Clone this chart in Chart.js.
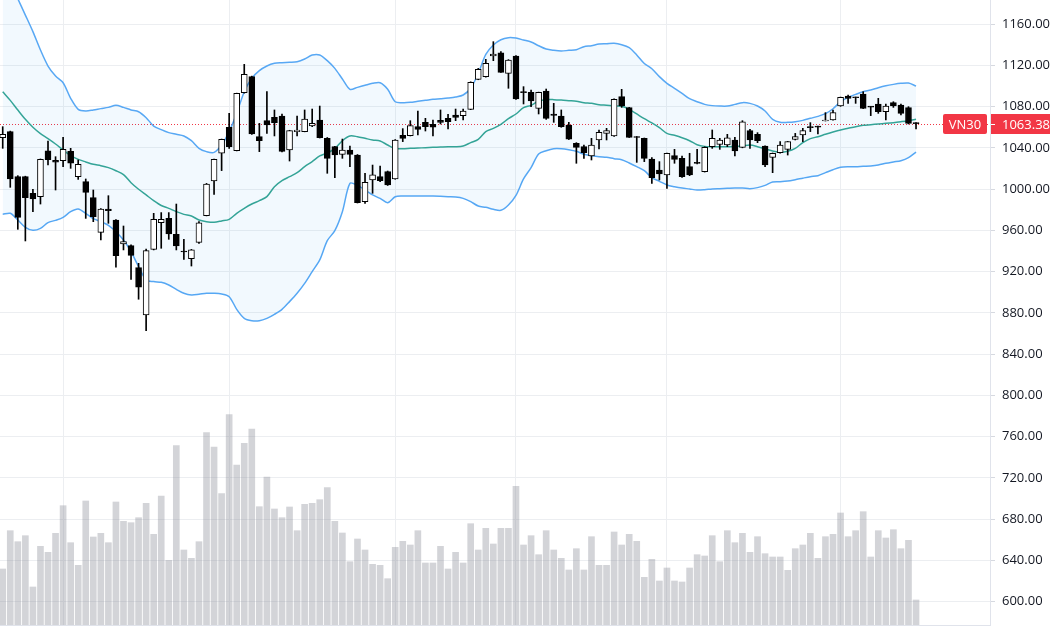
<!DOCTYPE html>
<html>
<head>
<meta charset="utf-8">
<title>VN30</title>
<script src="https://cdn.jsdelivr.net/npm/chart.js@4.4.0/dist/chart.umd.min.js"></script>
<style>
  html, body { margin: 0; padding: 0; background: #fff; overflow: hidden; }
  #chart { display: block; }
</style>
</head>
<body>
<canvas id="chart" width="1050" height="630"></canvas>
<script>
// daily candles, oldest first
const opens = [1049.8, 1055.7, 1012, 1012, 995.9, 992.6, 1037.2, 1027.8, 1027.5, 1036.6,
  1012, 1007.2, 991.7, 958.1, 980.5, 970, 946.8, 945.2, 923.8, 878,
  941.6, 967.4, 971.6, 956.2, 940, 932.6, 948.4, 974.2, 1007.8, 1034.7,
  1059.9, 1037.2, 1093.5, 1109, 1050.8, 1066.3, 1069.5, 1070.8, 1037.9, 1055.7,
  1055.7, 1061.2, 1067, 1049.2, 1041.1, 1033.7, 1037.9, 1033, 987.8, 1008.8,
  1012, 1016.9, 1009.8, 1052.1, 1051.8, 1060.5, 1064.7, 1062.8, 1066.6, 1068.6,
  1071.8, 1071.2, 1077.3, 1106.4, 1109, 1129, 1132.2, 1112.2, 1129, 1094.2,
  1093.8, 1078.3, 1095.1, 1072.8, 1070.8, 1062.1, 1044.3, 1041.1, 1032.1, 1047.6,
  1054, 1051.5, 1089.6, 1078.9, 1050.8, 1049.2, 1029.2, 1018.5, 1013.7, 1032.4,
  1029.8, 1021.7, 1025.9, 1016.9, 1041.1, 1043.4, 1042.7, 1047.6, 1040.5, 1056.6,
  1053.1, 1041.8, 1030.8, 1035.3, 1038.5, 1048.2, 1052.4, 1059.9, 1060.5, 1066,
  1067, 1080.5, 1090.2, 1089, 1092.2, 1079.9, 1082.5, 1075, 1083.8, 1081.5,
  1078.9, 1063.6];
const highs = [1060.5, 1056.2, 1013, 1012.5, 999.8, 1029.2, 1046.6, 1031.4, 1050.2, 1039.5,
  1028.2, 1009.8, 999.1, 981, 993.6, 970.5, 964.2, 946, 928, 941.9,
  976.5, 977.2, 977.2, 985.5, 951.3, 941.5, 968.4, 1005.5, 1029, 1048.5,
  1073.4, 1093, 1120.9, 1109.5, 1063.7, 1094.4, 1076.7, 1072.8, 1057, 1070.8,
  1076.7, 1077.6, 1080.5, 1050, 1041.5, 1048.5, 1041.8, 1033.5, 1015.3, 1023.3,
  1022.4, 1017.5, 1048, 1058.6, 1066.3, 1075.7, 1068.6, 1067, 1076.7, 1072.5,
  1077.6, 1077.6, 1104, 1117, 1125.8, 1142.9, 1133.2, 1125.5, 1129.5, 1099.3,
  1096, 1094, 1097, 1083.1, 1076.7, 1064.7, 1045, 1042.7, 1049.2, 1057.3,
  1058.9, 1087.5, 1096.7, 1079.2, 1051, 1049.5, 1030.5, 1026.6, 1035, 1038.5,
  1032.1, 1034.7, 1038.5, 1041, 1057.3, 1049.2, 1053.1, 1050.2, 1066.3, 1057.9,
  1054.7, 1042, 1035, 1046, 1046.2, 1054, 1058.9, 1064.4, 1061, 1074.1,
  1076.7, 1089.2, 1091.2, 1089.2, 1094.4, 1080, 1088, 1082.5, 1084.7, 1082.5,
  1079.9, 1064.4];
const lows = [1039.5, 1001.7, 961, 949.7, 978.1, 985.5, 1023.3, 999.1, 1021.7, 1020.1,
  1009.4, 971.6, 968.4, 950.6, 966.8, 924.2, 941, 912.5, 893.2, 862.8,
  941, 942.6, 951.3, 941, 931.9, 925.4, 947.4, 974, 994.9, 1017.9,
  1039.5, 1037, 1093, 1053, 1036.3, 1054, 1051.5, 1036, 1027.2, 1051.5,
  1055.5, 1060.5, 1049.5, 1015.3, 1011.1, 1029.8, 1021.7, 986.5, 986.2, 995.9,
  1007.2, 1003.5, 1009.5, 1046, 1051.5, 1052.4, 1056.3, 1051.5, 1063.1, 1058.2,
  1066.3, 1067, 1077, 1106, 1108.5, 1124.5, 1113, 1097.7, 1087, 1082.5,
  1079.9, 1072.8, 1067.6, 1064.7, 1059.9, 1048, 1025, 1029.8, 1028.2, 1038.9,
  1047.6, 1051, 1079.2, 1050, 1025.9, 1026.6, 1005.6, 1008.8, 1000.7, 1025,
  1011.4, 1013, 1024.5, 1016.5, 1039.5, 1038.5, 1041.1, 1032.1, 1040, 1039.5,
  1045, 1021.7, 1015.9, 1034.7, 1033, 1047.6, 1046, 1055.7, 1053.4, 1066,
  1066.8, 1080.2, 1083.1, 1083.1, 1078, 1071.2, 1073.4, 1067, 1079.2, 1071.8,
  1063.1, 1058.2];
const closes = [1053.1, 1009.8, 972.6, 991.7, 990.4, 1028.8, 1028.5, 1026.2, 1038.5, 1025,
  1024, 996.8, 973.3, 980.7, 979, 935.5, 949, 935.8, 904.8, 940.3,
  970.7, 970.7, 956.5, 944.8, 939, 941, 967.4, 1004.9, 1028.8, 1048.2,
  1041.1, 1092.8, 1111.2, 1053.4, 1046.9, 1062.1, 1064.4, 1036.6, 1056.6, 1057.2,
  1067.9, 1063.7, 1049.8, 1029.8, 1033, 1037.9, 1033.7, 986.8, 1006.5, 1013.7,
  1008.2, 1004, 1047.6, 1049.2, 1061.5, 1057.9, 1060.5, 1059.9, 1064.7, 1065.3,
  1069.5, 1075.7, 1103.5, 1116.1, 1121.9, 1130.9, 1113.2, 1125.1, 1087.3, 1093.5,
  1085.4, 1093.8, 1068.6, 1071.5, 1060.5, 1048.5, 1040.5, 1035.3, 1042.7, 1055,
  1056.6, 1087, 1080.5, 1050.2, 1050, 1029.8, 1011.1, 1014.6, 1034.7, 1028.8,
  1012, 1013.7, 1024.9, 1040.5, 1049.2, 1047.6, 1049.8, 1036.9, 1065.3, 1047.6,
  1046.9, 1023.3, 1034.7, 1042.7, 1046, 1050.8, 1056.6, 1059.5, 1060, 1067,
  1074.1, 1088.9, 1088, 1088.5, 1078.3, 1079.5, 1075, 1080.5, 1080.5, 1073.4,
  1063.7, 1063.38];

// volume, relative units
const volumes = [56, 94.3, 83.3, 89.3, 38, 78.7, 72.7, 91.7, 119.3, 82.3,
  59.7, 124, 88, 91.7, 82.3, 123, 103.7, 102.3, 107.3, 121.7,
  90.7, 129, 64.7, 179.3, 75, 66.7, 83.3, 192.3, 178, 131.3,
  210.3, 160, 181.7, 196, 118.3, 148, 116, 107.3, 118, 94.3,
  120.7, 121.7, 125.3, 137.3, 103.7, 92, 63.3, 86, 75, 60.7,
  59.7, 46.3, 77.7, 83.7, 80, 94.3, 62, 62, 78.7, 56,
  72.7, 62, 101.3, 75, 96.7, 81, 96.7, 96.7, 138.7, 80,
  89.3, 70.3, 94.3, 75, 66.7, 55, 76.3, 55, 88.3, 59.7,
  59.7, 93, 80, 90.7, 83.7, 47.7, 65.7, 44, 57, 44,
  43, 57, 70.3, 69, 89.3, 63.3, 94.3, 82.3, 91.7, 72.7,
  88.3, 71.3, 68, 68, 54.7, 76.3, 80, 91.7, 66.7, 88.3,
  90.7, 112, 88.3, 94.3, 113.3, 68, 94.3, 87, 95.3, 76.3,
  84.7, 25];

// Bollinger bands as shown
const bbUpper = [1217, 1200.8, 1184.5, 1168.7, 1152.6, 1134.8, 1119.3, 1109.6, 1103.1, 1088,
  1077.3, 1075.7, 1076.7, 1078, 1079.2, 1081.2, 1079.2, 1076.7, 1075, 1069.2,
  1061.1, 1057.6, 1054.7, 1053.1, 1051.5, 1046.9, 1039.5, 1036.3, 1035.6, 1042.7,
  1055.7, 1073.4, 1094.4, 1107.4, 1114.8, 1119.3, 1121.9, 1122.5, 1122.9, 1123.5,
  1126.1, 1130, 1130, 1124.5, 1117, 1106.7, 1096.7, 1098.6, 1100.6, 1102.5,
  1103.1, 1096.7, 1084.7, 1083.8, 1084.1, 1085.1, 1086, 1087, 1087.6, 1088.3,
  1089.3, 1091.2, 1097.7, 1112.2, 1130.6, 1139.7, 1144.8, 1146.8, 1146.4, 1144.5,
  1142.6, 1139, 1135.8, 1134.5, 1133.8, 1134.5, 1135.1, 1138, 1139, 1140.6,
  1140.9, 1141.3, 1140, 1137.1, 1130, 1121.7, 1116.7, 1109, 1102.5, 1097.7,
  1092.8, 1087.6, 1084.7, 1082.1, 1080.9, 1080.5, 1080.5, 1082.1, 1083.8, 1083.1,
  1080.5, 1075.7, 1067.6, 1064.7, 1064.7, 1065.3, 1066.6, 1068.6, 1070.5, 1073.1,
  1077.9, 1084.7, 1088.9, 1091.8, 1094.4, 1096, 1098.3, 1100.2, 1101.5, 1102.5,
  1102.8, 1099.9];
const bbBasis = [1094.4, 1086, 1076.6, 1067.6, 1059.9, 1053.7, 1048.9, 1043.7, 1037.9, 1032.4,
  1028.8, 1026.3, 1024, 1022.7, 1020.8, 1017.8, 1014, 1006.2, 999.8, 994.3,
  988.8, 984.1, 981.3, 978.1, 975.5, 973.9, 970, 968.4, 967.8, 969.1,
  970.7, 976.5, 981.3, 985.5, 988.8, 992.7, 1002.3, 1008.2, 1012, 1015.9,
  1021.7, 1026.6, 1032.1, 1035, 1039.2, 1046.9, 1051.5, 1050.8, 1049.2, 1047.6,
  1046.6, 1042.7, 1039.2, 1039.2, 1039.5, 1039.8, 1040.1, 1040.5, 1040.8, 1041.1,
  1041.1, 1041.8, 1045, 1048.2, 1055.7, 1058.9, 1062.8, 1068.3, 1072.8, 1078.9,
  1081.2, 1085.4, 1086.7, 1086.7, 1086.3, 1085.7, 1085.1, 1083.8, 1083.1, 1081.8,
  1081.2, 1080.5, 1080.2, 1077.3, 1072.8, 1068.2, 1064.1, 1059.5, 1054, 1052.1,
  1049.8, 1046.9, 1043, 1041.4, 1041.1, 1041.1, 1041.1, 1041.4, 1041.8, 1042.7,
  1041.1, 1038.9, 1036.9, 1035.6, 1036.6, 1039.5, 1045, 1048.9, 1050.8, 1053.1,
  1055.3, 1057.3, 1058.9, 1060.5, 1061.8, 1062.4, 1063.1, 1063.7, 1064.4, 1065.3,
  1066.3, 1067.6];
const bbLower = [975.5, 976.5, 970, 962.9, 960, 961.9, 967.5, 969.7, 972.6, 978.1,
  980.7, 976.5, 971.3, 968.4, 964.9, 958.7, 950.6, 939.3, 924.8, 911.9,
  910.3, 909.6, 907, 902.8, 899, 897.3, 898, 899, 899, 898.3,
  895.7, 883.4, 874.7, 872.4, 872.4, 874.7, 878.6, 883.4, 890.9, 899,
  908.6, 920, 931.3, 950, 959.7, 978.1, 1005.6, 1003.6, 999.1, 994.3,
  991, 986.8, 992.6, 993.3, 993.3, 993.3, 993.3, 993.3, 993, 992.6,
  992.3, 991, 987.8, 983.6, 982.3, 980.4, 979.4, 984.6, 993.9, 1009.8,
  1020.8, 1034, 1037.2, 1039.2, 1039.2, 1038.2, 1036.6, 1033.7, 1032.4, 1031.4,
  1030.8, 1029.5, 1028.5, 1025.3, 1021.7, 1017.8, 1011.1, 1007.5, 1004, 1002.3,
  1001, 1000.1, 999.1, 999.4, 1000.1, 1000.4, 1000.7, 1001, 1001, 1000.4,
  1001.4, 1003.6, 1006.9, 1007.2, 1007.8, 1009.1, 1010.6, 1012, 1013, 1015.9,
  1018.8, 1021.1, 1021.7, 1021.7, 1022.1, 1022.4, 1023.3, 1025, 1026.3, 1027.5,
  1030.5, 1035.9];

// candle index where each month starts (vertical grid lines)
const monthStarts = [8, 30, 52, 68, 88, 111];
const priceTicks = [600, 640, 680, 720, 760, 800, 840, 880, 920, 960, 1000, 1040, 1080, 1120, 1160];
const symbol = 'VN30';

const lastClose = closes[closes.length - 1];
const tagColor = '#f23645';
const gridColor = '#eceef1';
const axisFont = { family: '"Open Sans", sans-serif', size: 13 };

const xy = arr => arr.map((v, i) => ({ x: i, y: v }));

// no label overflow padding: the plot goes right to the canvas edges
const noPad = scale => {
    scale.paddingTop = 0;
    scale.paddingBottom = 0;
    scale.paddingLeft = 0;
    scale.paddingRight = 0;
};

const lastPriceTag = {
    id: 'lastPriceTag',
    beforeDatasetsDraw(chart) {
        const { ctx, chartArea } = chart;
        const y = Math.round(chart.scales.y.getPixelForValue(lastClose)) + 0.5;
        ctx.save();
        ctx.strokeStyle = tagColor;
        ctx.lineWidth = 1;
        ctx.setLineDash([1, 2]);
        ctx.beginPath();
        ctx.moveTo(chartArea.left, y);
        ctx.lineTo(chartArea.right, y);
        ctx.stroke();
        ctx.restore();
    },
    afterDraw(chart) {
        const { ctx, chartArea } = chart;
        const y = Math.round(chart.scales.y.getPixelForValue(lastClose));
        ctx.save();
        ctx.font = '13px "Open Sans", sans-serif';
        ctx.textBaseline = 'middle';

        // symbol tag, inside the plot
        const w = Math.round(ctx.measureText(symbol).width) + 12;
        const x0 = chartArea.right - 3 - w;
        ctx.fillStyle = tagColor;
        ctx.beginPath();
        ctx.roundRect(x0, y - 10, w, 20, 2);
        ctx.fill();
        ctx.fillStyle = '#fff';
        ctx.textAlign = 'center';
        ctx.fillText(symbol, x0 + w / 2, y + 1);

        // price tag on the axis
        ctx.fillStyle = tagColor;
        ctx.fillRect(chartArea.right + 1, y - 10, chart.width - chartArea.right, 20);
        ctx.fillStyle = '#fff';
        ctx.fillRect(chartArea.right + 1, y, 4, 1);
        ctx.textAlign = 'left';
        ctx.fillText(lastClose.toFixed(2), chartArea.right + 12, y + 1);
        ctx.restore();
    }
};

const ctx = document.getElementById('chart').getContext('2d');
new Chart(ctx, {
    type: 'bar',
    data: {
        datasets: [
            {
                label: 'Volume',
                yAxisID: 'yv',
                data: xy(volumes),
                backgroundColor: 'rgba(140,142,152,0.38)',
                barThickness: 6,
                grouped: false,
                order: 10
            },
            {
                type: 'line',
                label: 'BB upper',
                data: xy(bbUpper),
                borderColor: '#58a8f4',
                borderWidth: 1.5,
                pointRadius: 0,
                tension: 0.3,
                fill: 3,
                backgroundColor: 'rgba(33,150,243,0.06)',
                order: 5
            },
            {
                type: 'line',
                label: 'BB basis',
                data: xy(bbBasis),
                borderColor: '#36a592',
                borderWidth: 1.5,
                pointRadius: 0,
                tension: 0.3,
                fill: false,
                order: 5
            },
            {
                type: 'line',
                label: 'BB lower',
                data: xy(bbLower),
                borderColor: '#58a8f4',
                borderWidth: 1.5,
                pointRadius: 0,
                tension: 0.3,
                fill: false,
                order: 5
            },
            {
                label: 'Wick',
                data: lows.map((lo, i) => ({ x: i, y: [lo, highs[i]] })),
                backgroundColor: '#000',
                barThickness: 1,
                grouped: false,
                order: 2
            },
            {
                label: 'Body',
                data: opens.map((o, i) => ({ x: i, y: [o, closes[i]] })),
                backgroundColor: opens.map((o, i) => closes[i] >= o ? '#fff' : '#000'),
                borderColor: '#000',
                borderWidth: 1,
                borderSkipped: false,
                barThickness: 6,
                minBarLength: 1,
                grouped: false,
                order: 1
            }
        ]
    },
    options: {
        responsive: false,
        animation: false,
        devicePixelRatio: 1,
        layout: { padding: 0 },
        plugins: {
            legend: { display: false },
            tooltip: { enabled: false }
        },
        scales: {
            x: {
                type: 'linear',
                min: -0.36,
                max: 130.8,
                offset: false,
                afterBuildTicks: scale => { scale.ticks = monthStarts.map(v => ({ value: v })); },
                afterFit: scale => { scale.height = 5; noPad(scale); },
                ticks: { display: false },
                grid: { color: gridColor, drawTicks: false, offset: false },
                border: { color: '#e0e3eb' }
            },
            y: {
                position: 'right',
                min: 577.4,
                max: 1183.3,
                afterBuildTicks: scale => { scale.ticks = priceTicks.map(v => ({ value: v })); },
                afterFit: scale => { scale.width = 60; noPad(scale); },
                ticks: {
                    callback: v => Number(v).toFixed(2),
                    color: '#131722',
                    font: axisFont,
                    padding: 7
                },
                grid: { color: gridColor, tickLength: 5, tickColor: '#d6d9e0' },
                border: { color: '#e0e3eb' }
            },
            yv: {
                display: false,
                min: 0,
                max: 625
            }
        }
    },
    plugins: [lastPriceTag]
});
</script>
</body>
</html>
